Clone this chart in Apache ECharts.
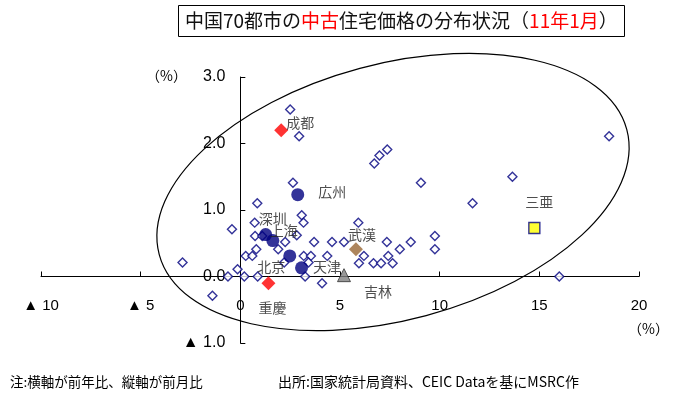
<!DOCTYPE html>
<html>
<head>
<meta charset="utf-8">
<script src="https://cdn.jsdelivr.net/npm/echarts@6/dist/echarts.min.js"></script>
<style>
  html, body { margin: 0; padding: 0; background: #fff; }
  #chart { width: 673px; height: 394px; }
</style>
</head>
<body>
<div id="chart"></div>
<script>
// 前年比 (x) / 前月比 (y), その他の都市
const otherX = [2.5, 2.95, 2.64, 6.72, 6.98, 7.37, 9.06, 18.5, 13.65, 11.65, 16.0,
  0.85, -0.42, -2.9, 0.72, 0.74, 1.1, 0.8, 0.27, 0.6, -0.14, -0.62, 0.2, 0.87, -1.4,
  3.08, 3.17, 2.25, 1.9, 3.7, 4.6, 5.2, 3.18, 3.54, 3.42, 4.36, 3.25, 4.1,
  5.92, 7.35, 8.55, 8.0, 7.42, 6.2, 5.95, 6.68, 7.06, 7.64, 9.76, 9.76, 2.83, 2.2];
const otherY = [2.51, 2.11, 1.41, 1.70, 1.82, 1.91, 1.41, 2.11, 1.50, 1.10, 0.0,
  1.10, 0.71, 0.21, 0.81, 0.61, 0.61, 0.41, 0.31, 0.31, 0.11, 0.0, 0.0, 0.0, -0.29,
  0.92, 0.81, 0.52, 0.41, 0.52, 0.52, 0.52, 0.31, 0.31, 0.21, 0.31, 0.0, -0.1,
  0.81, 0.52, 0.52, 0.41, 0.31, 0.31, 0.2, 0.2, 0.2, 0.2, 0.61, 0.41, 0.62, 0.21];

// 主要都市
const redCities = ['成都', '重慶'];
const redX = [2.05, 1.41];
const redY = [2.2, -0.1];

const navyCities = ['広州', '深圳', '上海', '北京', '天津'];
const navyX = [2.88, 1.27, 1.63, 2.48, 3.07];
const navyY = [1.23, 0.63, 0.54, 0.31, 0.13];

const wuhan = ['武漢', 5.8, 0.41];
const jilin = ['吉林', 5.2, 0.02];
const sanya = ['三亜', 14.75, 0.73];

const xTicks = [-10, -5, 0, 5, 10, 15, 20];
const yTicks = [-1, 0, 1, 2, 3];

const FONT = 'Liberation Sans, "Noto Sans CJK JP", sans-serif';
const JFONT = '"Noto Sans CJK JP", sans-serif';

// grid (px) - 軸は原点で交差させる
const G = { left: 41, right: 34, top: 77, bottom: 51 };
const plotW = 673 - G.left - G.right;
const plotH = 394 - G.top - G.bottom;
const xZeroOff = plotW * (0 - xTicks[0]) / (xTicks[xTicks.length - 1] - xTicks[0]);
const yZeroOff = plotH * (0 - yTicks[0]) / (yTicks[yTicks.length - 1] - yTicks[0]);

// ラベル配置
const labelStyle = {
  '成都': { position: 'right', distance: 0, offset: [-2, -8] },
  '重慶': { position: 'bottom', offset: [4, 6] },
  '広州': { position: 'right', distance: 14, offset: [0, -3] },
  '深圳': { position: 'top', offset: [7, 3] },
  '上海': { position: 'top', offset: [11, 9] },
  '北京': { position: 'left', offset: [7, 11] },
  '天津': { position: 'right', offset: [0, -1] },
  '武漢': { position: 'top', offset: [6, 4] },
  '吉林': { position: 'right', offset: [8, 17] },
  '三亜': { position: 'top', offset: [5, -8] }
};

function cityData(names, xs, ys) {
  return names.map((n, i) => ({
    name: n,
    value: [xs[i], ys[i]],
    label: Object.assign({
      show: true, formatter: '{b}', color: '#222', fontSize: 14, fontFamily: JFONT
    }, labelStyle[n])
  }));
}

function tri(v, digits) {
  if (v < 0) return '▲ ' + Math.abs(v).toFixed(digits);
  return v.toFixed(digits);
}

const myChart = echarts.init(document.getElementById('chart'));
const option = {
  animation: false,
  title: {
    text: '中国70都市の{r|中古}住宅価格の分布状況（{r|11年1月}）',
    left: 178,
    top: 5,
    padding: [6, 7],
    borderColor: '#000',
    borderWidth: 1,
    textStyle: {
      fontSize: 19,
      fontWeight: 'normal',
      color: '#111',
      fontFamily: JFONT,
      lineHeight: 20,
      rich: {
        r: { color: '#ff0000', fontSize: 19, fontFamily: JFONT, lineHeight: 20 }
      }
    }
  },
  grid: Object.assign({ outerBoundsMode: 'none', containLabel: false }, G),
  xAxis: {
    type: 'value',
    min: xTicks[0],
    max: xTicks[xTicks.length - 1],
    interval: 5,
    position: 'bottom',
    offset: -yZeroOff,
    splitLine: { show: false },
    axisLine: { onZero: false, lineStyle: { color: '#000', width: 1 } },
    axisTick: { inside: true, length: 5, lineStyle: { color: '#000' } },
    axisLabel: {
      margin: 22, fontSize: 15, color: '#000', fontFamily: FONT,
      formatter: v => tri(v, 0)
    }
  },
  yAxis: {
    type: 'value',
    min: yTicks[0],
    max: yTicks[yTicks.length - 1],
    interval: 1,
    position: 'left',
    offset: -xZeroOff,
    splitLine: { show: false },
    axisLine: { onZero: false, lineStyle: { color: '#000', width: 1 } },
    axisTick: { inside: true, length: 5, lineStyle: { color: '#000' } },
    axisLabel: {
      margin: 15, fontSize: 16, color: '#000', fontFamily: FONT,
      formatter: v => tri(v, 1)
    }
  },
  graphic: [
    {
      type: 'ellipse',
      x: 393, y: 192,
      rotation: 15 * Math.PI / 180,
      shape: { cx: 0, cy: 0, rx: 242, ry: 128 },
      style: { fill: 'none', stroke: '#000', lineWidth: 1.2 },
      silent: true,
      z: 1
    },
    { type: 'text', left: 146, top: 69, style: { text: '（%）', fill: '#000', font: '14px ' + JFONT } },
    { type: 'text', left: 628, top: 322, style: { text: '（%）', fill: '#000', font: '14px ' + JFONT } },
    { type: 'text', left: 10, top: 375, style: { text: '注:横軸が前年比、縦軸が前月比', fill: '#000', font: '13.5px ' + JFONT } },
    { type: 'text', left: 278, top: 375, style: { text: '出所:国家統計局資料、CEIC Dataを基にMSRC作', fill: '#000', font: '14px ' + JFONT } }
  ],
  series: [
    {
      name: 'その他',
      type: 'scatter',
      symbol: 'diamond',
      symbolSize: 9,
      itemStyle: { color: '#fff', borderColor: '#000080', borderWidth: 1.4 },
      data: otherX.map((x, i) => [x, otherY[i]]),
      z: 2
    },
    {
      type: 'scatter',
      symbol: 'circle',
      symbolSize: 13,
      itemStyle: { color: '#000080' },
      data: cityData(navyCities, navyX, navyY),
      z: 3
    },
    {
      type: 'scatter',
      symbol: 'diamond',
      symbolSize: 14,
      itemStyle: { color: '#ff0000' },
      data: cityData(redCities, redX, redY),
      z: 3
    },
    {
      type: 'scatter',
      symbol: 'diamond',
      symbolSize: 14,
      itemStyle: { color: '#996633' },
      data: cityData([wuhan[0]], [wuhan[1]], [wuhan[2]]),
      z: 3
    },
    {
      type: 'scatter',
      symbol: 'triangle',
      symbolSize: 13,
      itemStyle: { color: '#808080', borderColor: '#333', borderWidth: 1 },
      data: cityData([jilin[0]], [jilin[1]], [jilin[2]]),
      z: 3
    },
    {
      type: 'scatter',
      symbol: 'rect',
      symbolSize: 11,
      itemStyle: { color: '#ffff00', borderColor: '#000080', borderWidth: 1.4 },
      data: cityData([sanya[0]], [sanya[1]], [sanya[2]]),
      z: 3
    }
  ]
};
myChart.setOption(option);
</script>
</body>
</html>
